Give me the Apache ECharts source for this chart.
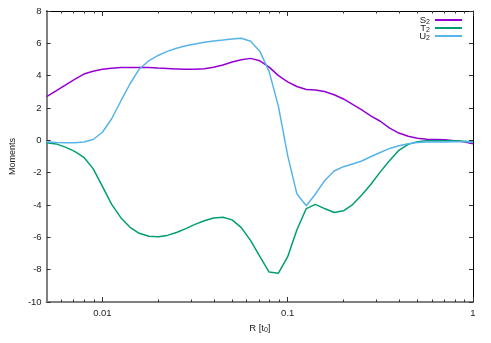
<!DOCTYPE html>
<html>
<head>
<meta charset="utf-8">
<script src="https://cdn.jsdelivr.net/npm/echarts@6/dist/echarts.min.js"></script>
<style>html,body{margin:0;padding:0;background:#fff}#c{width:491px;height:343px}</style>
</head>
<body>
<div id="c"></div>
<script>
// R values (log-spaced samples)
const R = [0.005, 0.00562, 0.00631, 0.00708, 0.00794, 0.00891, 0.01, 0.0112, 0.0126, 0.0141,
  0.0158, 0.0178, 0.02, 0.0224, 0.0251, 0.0282, 0.0316, 0.0355, 0.0398, 0.0447,
  0.0501, 0.0562, 0.0631, 0.0708, 0.0794, 0.0891, 0.1, 0.112, 0.126, 0.141,
  0.158, 0.178, 0.2, 0.224, 0.251, 0.282, 0.316, 0.355, 0.398, 0.447,
  0.501, 0.562, 0.631, 0.708, 0.794, 0.891, 1.0];

const S2 = [2.70, 3.06, 3.42, 3.77, 4.10, 4.27, 4.40, 4.46, 4.50, 4.51,
  4.51, 4.50, 4.47, 4.45, 4.42, 4.39, 4.40, 4.43, 4.52, 4.66,
  4.84, 4.98, 5.07, 4.92, 4.53, 4.00, 3.62, 3.33, 3.15, 3.11,
  3.02, 2.82, 2.56, 2.22, 1.88, 1.50, 1.18, 0.75, 0.45, 0.25,
  0.13, 0.07, 0.05, 0.03, -0.02, -0.09, -0.22];

const T2 = [-0.15, -0.22, -0.42, -0.68, -1.05, -1.75, -2.85, -3.95, -4.80, -5.38,
  -5.75, -5.93, -5.97, -5.88, -5.70, -5.46, -5.20, -4.97, -4.80, -4.76,
  -4.92, -5.40, -6.20, -7.20, -8.15, -8.22, -7.20, -5.55, -4.22, -3.96,
  -4.22, -4.46, -4.36, -3.97, -3.38, -2.70, -1.95, -1.25, -0.62, -0.25,
  -0.08, -0.03, -0.02, -0.02, -0.03, -0.05, -0.09];

const U2 = [-0.09, -0.13, -0.15, -0.15, -0.10, 0.05, 0.50, 1.32, 2.45, 3.50,
  4.40, 4.92, 5.25, 5.50, 5.70, 5.85, 5.96, 6.06, 6.14, 6.20,
  6.27, 6.31, 6.13, 5.50, 4.25, 2.10, -0.95, -3.30, -4.05, -3.33,
  -2.50, -1.90, -1.63, -1.46, -1.28, -1.00, -0.75, -0.50, -0.33, -0.21,
  -0.14, -0.11, -0.10, -0.10, -0.09, -0.09, -0.10];

const seriesNames = ['S2', 'T2', 'U2'];
const colors = ['#9400d3', '#009e73', '#56b4e9'];
const xMajor = [0.01, 0.1, 1];
const xMinor = [0.006, 0.007, 0.008, 0.009, 0.02, 0.03, 0.04, 0.05, 0.06, 0.07, 0.08, 0.09,
  0.2, 0.3, 0.4, 0.5, 0.6, 0.7, 0.8, 0.9];

const font = 'Liberation Sans, Arial, sans-serif';
const txt = {fontFamily: font, fontSize: 9.5, color: '#222'};
const subRich = {sub: {fontFamily: font, fontSize: 7, color: '#222', padding: [5, 0, 0, 0]}};

function xAx(pos, ticks, len, lineShow, lineColor, lineWidth, labels) {
  return {
    type: 'log', logBase: 10, min: 0.005, max: 1, position: pos, gridIndex: 0,
    axisLine: {show: lineShow, onZero: false, lineStyle: {color: lineColor, width: lineWidth}},
    axisTick: {show: true, inside: true, length: len, customValues: ticks, lineStyle: {color: '#333', width: 1}},
    axisLabel: labels ? {show: true, customValues: xMajor, formatter: v => String(+v.toPrecision(3)), ...txt, margin: 6} : {show: false},
    splitLine: {show: false}, minorTick: {show: false}
  };
}
const xAxes = [
  Object.assign(xAx('bottom', xMinor, 2.5, true, '#808080', 2, true), {
    name: 'R [t{sub|0}]', nameLocation: 'middle', nameGap: 18,
    nameTextStyle: {...txt, rich: subRich}
  }),
  xAx('bottom', xMajor, 5, false, '#000', 1, false),
  xAx('top', xMinor, 2.5, true, '#000', 1, false),
  xAx('top', xMajor, 5, false, '#000', 1, false)
];

function yAx(pos, lineColor, lineWidth, labels) {
  return {
    type: 'value', min: -10, max: 8, interval: 2, position: pos, gridIndex: 0,
    axisLine: {show: true, onZero: false, lineStyle: {color: lineColor, width: lineWidth}},
    axisTick: {show: true, inside: true, length: 4, lineStyle: {color: '#333', width: 1}},
    axisLabel: labels ? {show: true, ...txt, margin: 5} : {show: false},
    splitLine: {show: false}
  };
}
const yAxes = [
  Object.assign(yAx('left', '#808080', 2, true), {
    name: 'Moments', nameLocation: 'middle', nameRotate: 90, nameGap: 27,
    nameTextStyle: {...txt, fontSize: 9}
  }),
  yAx('right', '#000', 1, false)
];

const data = [S2, T2, U2];
const series = seriesNames.map((n, i) => ({
  name: n, type: 'line', xAxisIndex: 0, yAxisIndex: 0,
  data: R.map((r, j) => [r, data[i][j]]),
  showSymbol: false, symbol: 'none', smooth: false,
  lineStyle: {color: colors[i], width: 1.5}, itemStyle: {color: colors[i]},
  animation: false
}));

const chart = echarts.init(document.getElementById('c'), null, {renderer: 'canvas'});
chart.setOption({
  animation: false,
  backgroundColor: '#fff',
  color: colors,
  grid: {left: 41, right: 18, top: 11, bottom: 41, containLabel: false},
  xAxis: xAxes,
  yAxis: yAxes,
  legend: {
    orient: 'vertical', right: 29, top: 15, padding: 0, align: 'right',
    icon: 'rect', itemWidth: 27, itemHeight: 2, itemGap: -3,
    data: seriesNames,
    formatter: n => n[0] + '{sub|' + n.slice(1) + '}',
    textStyle: {...txt, lineHeight: 9, rich: subRich},
    selectedMode: false
  },
  series: series
});
</script>
</body>
</html>
